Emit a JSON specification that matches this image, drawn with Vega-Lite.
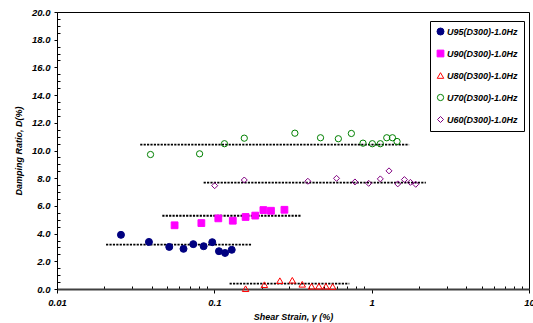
{
  "$schema": "https://vega.github.io/schema/vega-lite/v6.json",
  "width": 472,
  "height": 277,
  "autosize": {"type": "none"},
  "padding": {"left": 57, "top": 12, "right": 4, "bottom": 34},
  "background": "white",
  "config": {
    "view": {"stroke": "#000000", "strokeWidth": 1},
    "font": "Liberation Sans",
    "axis": {
      "grid": false,
      "labelFont": "Liberation Sans",
      "labelFontStyle": "italic",
      "labelFontWeight": "bold",
      "labelFontSize": 9.5,
      "labelColor": "#000000",
      "titleFont": "Liberation Sans",
      "titleFontStyle": "italic",
      "titleFontWeight": "bold",
      "titleFontSize": 9,
      "titleColor": "#000000",
      "tickColor": "#000000",
      "domainColor": "#000000"
    }
  },
  "datasets": {
    "points": [
      {"series": "U95(D300)-1.0Hz", "x": 0.0255, "y": 3.91},
      {"series": "U95(D300)-1.0Hz", "x": 0.0384, "y": 3.4},
      {"series": "U95(D300)-1.0Hz", "x": 0.0517, "y": 3.04},
      {"series": "U95(D300)-1.0Hz", "x": 0.0637, "y": 2.9},
      {"series": "U95(D300)-1.0Hz", "x": 0.0735, "y": 3.24},
      {"series": "U95(D300)-1.0Hz", "x": 0.0855, "y": 3.09},
      {"series": "U95(D300)-1.0Hz", "x": 0.097, "y": 3.38},
      {"series": "U95(D300)-1.0Hz", "x": 0.107, "y": 2.73},
      {"series": "U95(D300)-1.0Hz", "x": 0.117, "y": 2.6},
      {"series": "U95(D300)-1.0Hz", "x": 0.129, "y": 2.83},
      {"series": "U90(D300)-1.0Hz", "x": 0.0559, "y": 4.6},
      {"series": "U90(D300)-1.0Hz", "x": 0.0827, "y": 4.76},
      {"series": "U90(D300)-1.0Hz", "x": 0.106, "y": 5.1},
      {"series": "U90(D300)-1.0Hz", "x": 0.131, "y": 4.93},
      {"series": "U90(D300)-1.0Hz", "x": 0.158, "y": 5.2},
      {"series": "U90(D300)-1.0Hz", "x": 0.182, "y": 5.3},
      {"series": "U90(D300)-1.0Hz", "x": 0.205, "y": 5.7},
      {"series": "U90(D300)-1.0Hz", "x": 0.229, "y": 5.65},
      {"series": "U90(D300)-1.0Hz", "x": 0.279, "y": 5.72},
      {"series": "U80(D300)-1.0Hz", "x": 0.158, "y": 0.02},
      {"series": "U80(D300)-1.0Hz", "x": 0.208, "y": 0.31},
      {"series": "U80(D300)-1.0Hz", "x": 0.261, "y": 0.6},
      {"series": "U80(D300)-1.0Hz", "x": 0.313, "y": 0.63},
      {"series": "U80(D300)-1.0Hz", "x": 0.362, "y": 0.34},
      {"series": "U80(D300)-1.0Hz", "x": 0.415, "y": 0.2},
      {"series": "U80(D300)-1.0Hz", "x": 0.462, "y": 0.2},
      {"series": "U80(D300)-1.0Hz", "x": 0.512, "y": 0.2},
      {"series": "U80(D300)-1.0Hz", "x": 0.565, "y": 0.18},
      {"series": "U70(D300)-1.0Hz", "x": 0.0393, "y": 9.71},
      {"series": "U70(D300)-1.0Hz", "x": 0.0806, "y": 9.76},
      {"series": "U70(D300)-1.0Hz", "x": 0.116, "y": 10.49},
      {"series": "U70(D300)-1.0Hz", "x": 0.155, "y": 10.89},
      {"series": "U70(D300)-1.0Hz", "x": 0.325, "y": 11.25},
      {"series": "U70(D300)-1.0Hz", "x": 0.473, "y": 10.92},
      {"series": "U70(D300)-1.0Hz", "x": 0.614, "y": 10.85},
      {"series": "U70(D300)-1.0Hz", "x": 0.743, "y": 11.23},
      {"series": "U70(D300)-1.0Hz", "x": 0.881, "y": 10.53},
      {"series": "U70(D300)-1.0Hz", "x": 1.01, "y": 10.49},
      {"series": "U70(D300)-1.0Hz", "x": 1.135, "y": 10.49},
      {"series": "U70(D300)-1.0Hz", "x": 1.247, "y": 10.92},
      {"series": "U70(D300)-1.0Hz", "x": 1.356, "y": 10.92},
      {"series": "U70(D300)-1.0Hz", "x": 1.45, "y": 10.65},
      {"series": "U60(D300)-1.0Hz", "x": 0.1005, "y": 7.46},
      {"series": "U60(D300)-1.0Hz", "x": 0.155, "y": 7.87},
      {"series": "U60(D300)-1.0Hz", "x": 0.393, "y": 7.78},
      {"series": "U60(D300)-1.0Hz", "x": 0.598, "y": 7.99},
      {"series": "U60(D300)-1.0Hz", "x": 0.783, "y": 7.73},
      {"series": "U60(D300)-1.0Hz", "x": 0.957, "y": 7.63},
      {"series": "U60(D300)-1.0Hz", "x": 1.135, "y": 7.95},
      {"series": "U60(D300)-1.0Hz", "x": 1.289, "y": 8.53},
      {"series": "U60(D300)-1.0Hz", "x": 1.465, "y": 7.59},
      {"series": "U60(D300)-1.0Hz", "x": 1.615, "y": 7.9},
      {"series": "U60(D300)-1.0Hz", "x": 1.763, "y": 7.7},
      {"series": "U60(D300)-1.0Hz", "x": 1.906, "y": 7.56}
    ],
    "fits": [
      {"series": "U95(D300)-1.0Hz", "x": 0.0205, "y": 3.2},
      {"series": "U95(D300)-1.0Hz", "x": 0.172, "y": 3.2},
      {"series": "U90(D300)-1.0Hz", "x": 0.0467, "y": 5.29},
      {"series": "U90(D300)-1.0Hz", "x": 0.358, "y": 5.29},
      {"series": "U80(D300)-1.0Hz", "x": 0.125, "y": 0.39},
      {"series": "U80(D300)-1.0Hz", "x": 0.721, "y": 0.39},
      {"series": "U70(D300)-1.0Hz", "x": 0.0338, "y": 10.43},
      {"series": "U70(D300)-1.0Hz", "x": 1.73, "y": 10.43},
      {"series": "U60(D300)-1.0Hz", "x": 0.0855, "y": 7.68},
      {"series": "U60(D300)-1.0Hz", "x": 2.21, "y": 7.68}
    ]
  },
  "encoding": {
    "x": {
      "field": "x",
      "type": "quantitative",
      "scale": {"type": "log", "domain": [0.01, 10]},
      "axis": {
        "title": "Shear Strain, γ (%)",
        "values": [0.01, 0.02, 0.03, 0.04, 0.05, 0.06, 0.07, 0.08, 0.09, 0.1, 0.2, 0.3, 0.4, 0.5, 0.6, 0.7, 0.8, 0.9, 1, 2, 3, 4, 5, 6, 7, 8, 9, 10],
        "labelExpr": "datum.value == 0.01 ? '0.01' : datum.value == 0.1 ? '0.1' : datum.value == 1 ? '1' : datum.value == 10 ? '10' : ''",
        "labelOverlap": false,
        "labelFlush": false,
        "labelBound": false,
        "labelPadding": 4,
        "tickSize": {"condition": {"test": "datum.value == 0.01 || datum.value == 0.1 || datum.value == 1 || datum.value == 10", "value": 4}, "value": -3},
        "domainColor": "#404040",
        "domainWidth": 2,
        "titlePadding": 6
      }
    },
    "y": {
      "field": "y",
      "type": "quantitative",
      "scale": {"domain": [0, 20], "nice": false, "zero": true},
      "axis": {
        "title": "Damping Ratio, D(%)",
        "values": [0, 0.5, 1, 1.5, 2, 2.5, 3, 3.5, 4, 4.5, 5, 5.5, 6, 6.5, 7, 7.5, 8, 8.5, 9, 9.5, 10, 10.5, 11, 11.5, 12, 12.5, 13, 13.5, 14, 14.5, 15, 15.5, 16, 16.5, 17, 17.5, 18, 18.5, 19, 19.5, 20],
        "labelExpr": "datum.value % 2 == 0 ? format(datum.value, '.1f') : ''",
        "labelOverlap": false,
        "labelFlush": false,
        "labelBound": false,
        "labelPadding": 4,
        "tickSize": {"condition": {"test": "datum.value % 2 == 0", "value": 3}, "value": -3},
        "titlePadding": 8
      }
    }
  },
  "layer": [
    {
      "data": {"name": "fits"},
      "mark": {"type": "line", "stroke": "#000000", "strokeDash": [2.2, 1.2], "strokeWidth": 1.8},
      "encoding": {"detail": {"field": "series"}}
    },
    {
      "data": {"name": "points"},
      "mark": {"type": "point", "opacity": 1, "strokeWidth": 1},
      "encoding": {
        "color": {
          "field": "series", "type": "nominal",
          "scale": {
            "domain": ["U95(D300)-1.0Hz", "U90(D300)-1.0Hz", "U80(D300)-1.0Hz", "U70(D300)-1.0Hz", "U60(D300)-1.0Hz"],
            "range": ["#000080", "#FF00FF", "#FF0000", "#008000", "#800080"]
          },
          "legend": {
            "title": null,
            "orient": "none",
            "legendX": 373,
            "legendY": 9,
            "fillColor": "#ffffff",
            "strokeColor": "#000000",
            "padding": 6,
            "rowPadding": 11,
            "labelFont": "Liberation Sans",
            "labelFontStyle": "italic",
            "labelFontWeight": "bold",
            "labelFontSize": 9,
            "labelColor": "#000000",
            "symbolSize": 36,
            "symbolStrokeWidth": 1,
            "labelOffset": 2
          }
        },
        "shape": {
          "field": "series", "type": "nominal",
          "scale": {
            "domain": ["U95(D300)-1.0Hz", "U90(D300)-1.0Hz", "U80(D300)-1.0Hz", "U70(D300)-1.0Hz", "U60(D300)-1.0Hz"],
            "range": ["circle", "square", "triangle-up", "circle", "diamond"]
          }
        },
        "fill": {
          "field": "series", "type": "nominal",
          "scale": {
            "domain": ["U95(D300)-1.0Hz", "U90(D300)-1.0Hz", "U80(D300)-1.0Hz", "U70(D300)-1.0Hz", "U60(D300)-1.0Hz"],
            "range": ["#000080", "#FF00FF", "#ffffff00", "#ffffff00", "#ffffff00"]
          }
        },
        "size": {
          "field": "series", "type": "nominal",
          "scale": {
            "domain": ["U95(D300)-1.0Hz", "U90(D300)-1.0Hz", "U80(D300)-1.0Hz", "U70(D300)-1.0Hz", "U60(D300)-1.0Hz"],
            "range": [49, 36, 28, 36, 24]
          },
          "legend": null
        }
      }
    }
  ]
}
